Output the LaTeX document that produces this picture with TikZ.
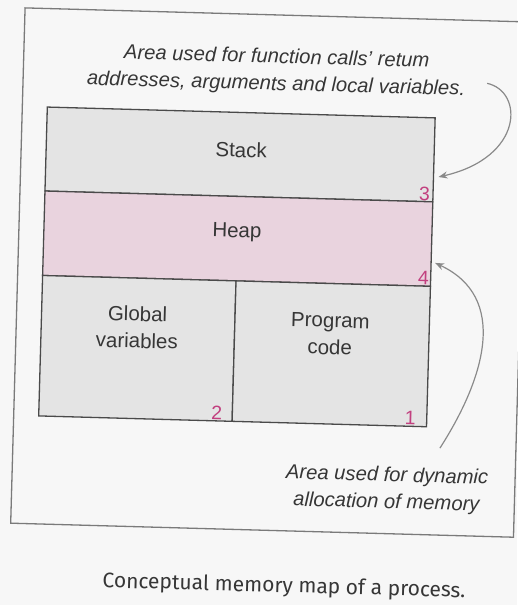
\documentclass[tikz,border=0pt]{standalone}
\usepackage{fontspec}
\setmainfont{Liberation Sans}
\newfontfamily\capfont{Fira Sans}
\usetikzlibrary{arrows.meta}
\definecolor{boxgray}{HTML}{E4E4E4}
\definecolor{heappink}{HTML}{E9D3DE}
\definecolor{numpink}{HTML}{C2407F}
\definecolor{linegray}{HTML}{4A4A4A}
\definecolor{framegray}{HTML}{7A7A7A}
\definecolor{arrowgray}{HTML}{8A8A8A}
\definecolor{textgray}{HTML}{363636}
\definecolor{paper}{HTML}{F7F7F7}
\begin{document}
\begin{tikzpicture}[x=1pt,y=-1pt,
  region/.style={draw=linegray, line width=1.3pt, inner sep=0pt, outer sep=0pt},
  boxlabel/.style={font=\fontsize{20.5}{27}\selectfont, text=textgray, align=center},
  note/.style={font=\fontsize{20.2}{27}\selectfont\itshape, text=textgray, align=center, inner sep=1pt},
  num/.style={font=\fontsize{19.5}{19.5}\selectfont, text=numpink, inner sep=1pt, anchor=south east},
  callout/.style={draw=arrowgray, line width=1.2pt, -{Stealth[length=9pt,width=7pt]}},
  caption/.style={font=\capfont\fontsize{21}{21}\selectfont, text=textgray}
]
\fill[paper] (0,0) rectangle (517,605);
\useasboundingbox (0,0) rectangle (517,605);
\begin{scope}[shift={(258,300)}, rotate=-1.6, transform shape]
  \draw[framegray, line width=1.3pt] (-241,-285.5) rectangle (262,230);
  \node[region, fill=boxgray, minimum width=388pt, minimum height=84pt] (stack) at (-22,-145) {};
  \node[region, fill=heappink, minimum width=388pt, minimum height=84.5pt] (heap) at (-22,-60.75) {};
  \node[region, fill=boxgray, minimum width=193.5pt, minimum height=140.5pt] (global) at (-119.25,51.75) {};
  \node[region, fill=boxgray, minimum width=194.5pt, minimum height=140.5pt] (program) at (74.75,51.75) {};
  \node[boxlabel] (stacktxt) at (-21,-149.5) {Stack};
  \node[boxlabel] (heaptxt) at (-23,-67) {Heap};
  \node[boxlabel] (globtxt) at (-120,30.5) {Global\\variables};
  \node[boxlabel] (progtxt) at (73,32) {Program\\code};
  \node[num] (n3) at ([xshift=-2pt]stack.south east) {3};
  \node[num] (n4) at ([xshift=-0.5pt]heap.south east) {4};
  \node[num] (n2) at ([xshift=-9pt]global.south east) {2};
  \node[num] (n1) at ([xshift=-10pt]program.south east) {1};
  \node[note] (topnote) at (12,-229) {Area used for function calls' retum\\addresses, arguments and local variables.};
  \node[note] (botnote) at (134,186) {Area used for dynamic\\allocation of memory};
  \node[caption] (cap) at (34,286) {Conceptual memory map of a process.};
  \coordinate (a1s) at (223,-223);
  \coordinate (a1e) at (177,-128);
  \coordinate (a2s) at (186,143);
  \coordinate (a2e) at (176,-42);
  \draw[callout] (a1s) .. controls (260,-216) and (262,-150) .. (a1e);
  \draw[callout] (a2s) .. controls (230,70) and (250,-10) .. (a2e);
\end{scope}
\end{tikzpicture}
\end{document}
